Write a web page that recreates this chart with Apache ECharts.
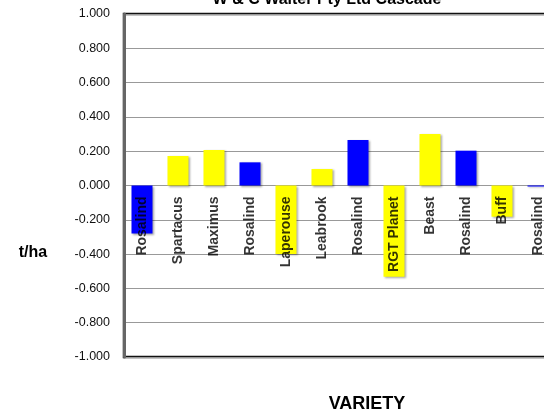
<!DOCTYPE html>
<html><head><meta charset="utf-8">
<script src="https://cdn.jsdelivr.net/npm/echarts@6/dist/echarts.min.js"></script>
<style>html,body{margin:0;padding:0;background:#fff}#c{width:544px;height:412px}</style>
</head><body><div id="c"></div>
<script>
const categories = ['Rosalind','Spartacus','Maximus','Rosalind','Laperouse','Leabrook','Rosalind','RGT Planet','Beast','Rosalind','Buff','Rosalind'];
const values = [-0.28, 0.172, 0.207, 0.135, -0.40, 0.096, 0.265, -0.532, 0.30, 0.203, -0.182, -0.006];
const colors = ['#0000FF','#FFFF00','#FFFF00','#0000FF','#FFFF00','#FFFF00','#0000FF','#FFFF00','#FFFF00','#0000FF','#FFFF00','#0000FF'];
const yTicks = { min: -1, max: 1, interval: 0.2 };
const titleText = 'W & C Walter Pty Ltd Cascade';
const yName = 't/ha';
const xName = 'VARIETY';

const FONT = 'Liberation Sans';
const chart = echarts.init(document.getElementById('c'));
chart.setOption({
  animation: false,
  textStyle: { fontFamily: FONT },
  grid: { left: 124, top: 14, width: 432, height: 343, show: true, borderColor: '#111', borderWidth: 2.5, backgroundColor: 'transparent', containLabel: false, outerBoundsMode: 'none' },
  graphic: [
    { type: 'text', style: { text: titleText, font: 'bold 16px ' + FONT, fill: '#000', x: 327, y: 0, textAlign: 'center', textVerticalAlign: 'middle' } },
    { type: 'text', style: { text: yName, font: 'bold 16px ' + FONT, fill: '#000', x: 33, y: 253, textAlign: 'center', textVerticalAlign: 'middle' } },
    { type: 'text', style: { text: xName, font: 'bold 18px ' + FONT, fill: '#000', x: 367, y: 404, textAlign: 'center', textVerticalAlign: 'middle' } }
  ],
  xAxis: {
    type: 'category', data: categories,
    axisLine: { show: false },
    axisTick: { show: false },
    splitLine: { show: false },
    axisLabel: { show: false }
  },
  yAxis: {
    type: 'value', min: yTicks.min, max: yTicks.max, interval: yTicks.interval,
    axisLine: { show: true, onZero: false, lineStyle: { color: '#666', width: 3 } },
    axisTick: { show: false },
    splitLine: { show: true, lineStyle: { color: '#999', width: 1 } },
    axisLabel: { margin: 14, color: '#111', fontSize: 12.5, fontFamily: FONT, formatter: v => v.toFixed(3) }
  },
  series: [{
    type: 'bar', barWidth: 21,
    data: values.map((v, i) => ({ value: v, itemStyle: { color: colors[i] } })),
    itemStyle: { shadowBlur: 2, shadowColor: 'rgba(0,0,0,0.35)', shadowOffsetX: 1, shadowOffsetY: 1 }
  }, {
    type: 'scatter', symbolSize: 0, z: 10, silent: true,
    data: categories.map((c, i) => [i, 0]),
    label: {
      show: true, position: 'bottom', distance: 11, rotate: 90,
      align: 'right', verticalAlign: 'middle',
      formatter: p => categories[p.dataIndex],
      color: '#000', fontWeight: 'bold', fontSize: 14, fontFamily: FONT
    }
  }]
});
</script></body></html>
